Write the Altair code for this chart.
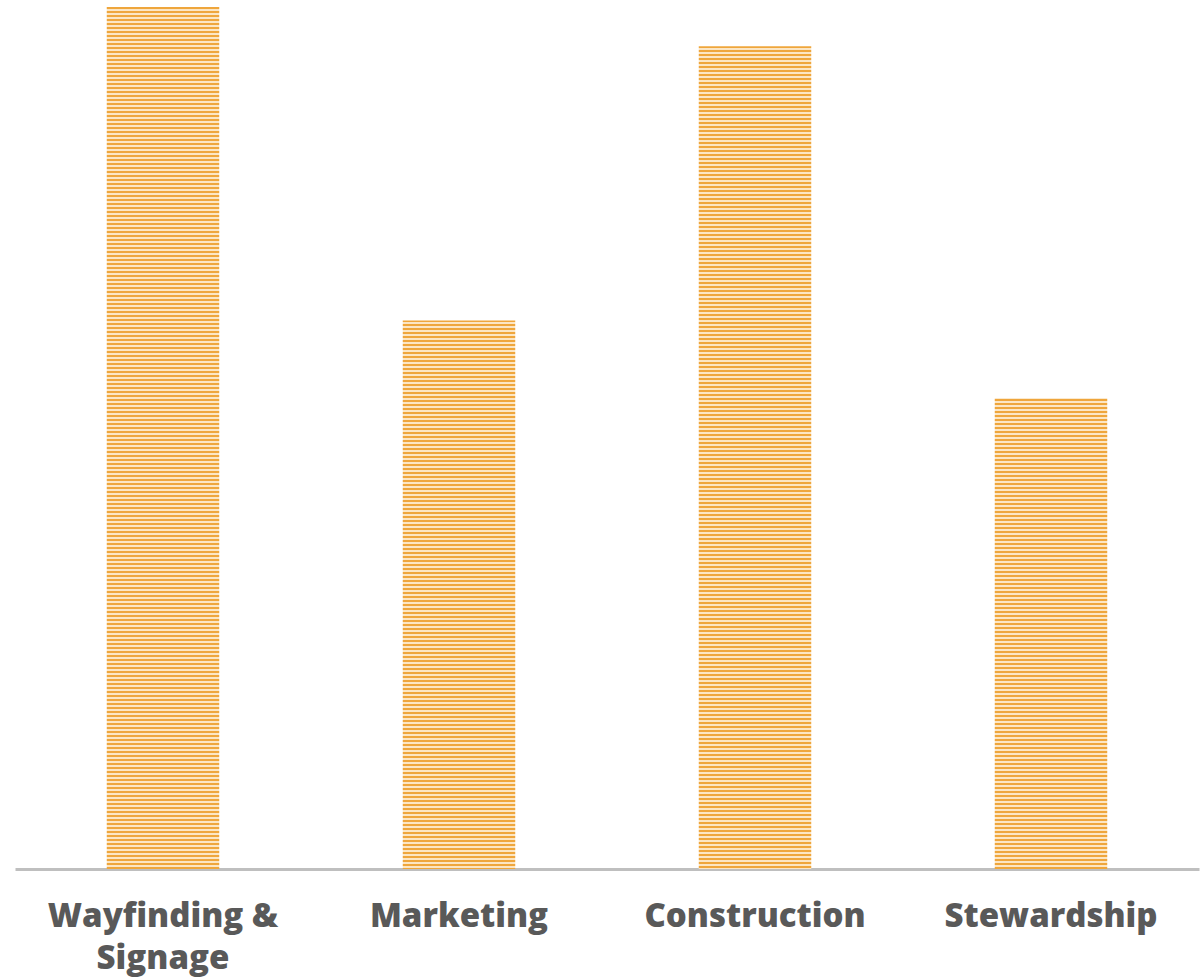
import altair as alt
import pandas as pd

categories = ["Wayfinding & Signage", "Marketing", "Construction", "Stewardship"]
values = [22, 14, 21, 12]

df = pd.DataFrame({"category": categories, "value": values})

PLOT_W, PLOT_H = 1184, 862
Y_MAX = 22
DARK = "#EFA63C"
LIGHT = "#FCE6C4"


def stripes(px_height, period=4.0):
    # stripes of a fixed pixel period, starting from the top of the bar
    stops = []
    k = 0
    while k * period < px_height:
        a = (k * period) / px_height
        m = min(1.0, (k * period + period / 2) / px_height)
        b = min(1.0, ((k + 1) * period) / px_height)
        stops += [
            alt.GradientStop(offset=a, color=DARK),
            alt.GradientStop(offset=m, color=DARK),
            alt.GradientStop(offset=m, color=LIGHT),
            alt.GradientStop(offset=b, color=LIGHT),
        ]
        k += 1
    return alt.LinearGradient(gradient="linear", stops=stops, x1=0, x2=0, y1=0, y2=1)


x_enc = alt.X(
    "category:N",
    sort=None,
    scale=alt.Scale(paddingInner=0.62, paddingOuter=0.31),
    axis=alt.Axis(
        title=None,
        ticks=False,
        domainColor="#BFBFBF",
        domainWidth=3,
        labelAngle=0,
        labelFont="Open Sans",
        labelFontWeight=800,
        labelFontSize=33,
        labelColor="#595959",
        labelPadding=31,
        labelLineHeight=42,
        labelLimit=400,
        labelExpr="datum.label == 'Wayfinding & Signage' ? ['Wayfinding &', 'Signage'] : datum.label",
    ),
)
y_enc = alt.Y("value:Q", scale=alt.Scale(domain=[0, Y_MAX]), axis=None)

layers = []
for cat, val in zip(categories, values):
    h = PLOT_H * val / Y_MAX
    layers.append(
        alt.Chart(df)
        .transform_filter(alt.datum.category == cat)
        .mark_bar(color=stripes(h))
        .encode(x=x_enc, y=y_enc)
    )

chart = (
    alt.layer(*layers)
    .properties(
        width=PLOT_W,
        height=PLOT_H,
        autosize=alt.AutoSizeParams(type="none"),
        padding={"left": 15, "top": 7, "right": 3, "bottom": 109},
        background="white",
    )
    .configure_view(stroke=None)
)

chart.save("out.html", embed_options={"renderer": "svg", "actions": False})
